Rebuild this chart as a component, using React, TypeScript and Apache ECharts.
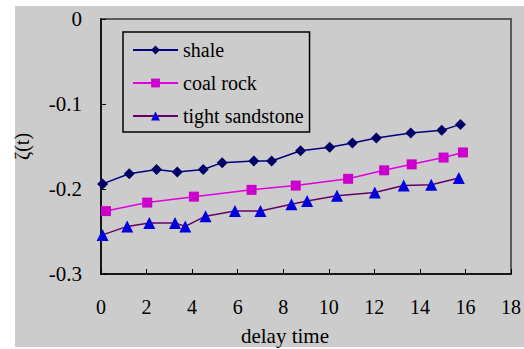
import React, { useEffect, useRef } from "react";
import * as echarts from "echarts";

const shaleX = [0.07, 1.24, 2.44, 3.35, 4.49, 5.32, 6.71, 7.49, 8.76, 10.04, 11.04, 12.09, 13.6, 14.96, 15.78];
const shaleY = [-0.194, -0.182, -0.177, -0.18, -0.177, -0.169, -0.167, -0.167, -0.155, -0.151, -0.146, -0.14, -0.134, -0.131, -0.124];
const coalX = [0.22, 2.03, 4.08, 6.61, 8.55, 10.85, 12.43, 13.64, 15.04, 15.89];
const coalY = [-0.226, -0.216, -0.209, -0.201, -0.196, -0.188, -0.178, -0.171, -0.163, -0.157];
const sandX = [0.07, 1.15, 2.12, 3.25, 3.7, 4.59, 5.88, 7.0, 8.36, 9.05, 10.36, 12.02, 13.29, 14.5, 15.71];
const sandY = [-0.254, -0.244, -0.24, -0.24, -0.244, -0.232, -0.226, -0.226, -0.218, -0.214, -0.208, -0.204, -0.196, -0.195, -0.187];
const seriesNames = ["shale", "coal rock", "tight sandstone"];
const xAxisTitle = "delay time";
const yAxisTitle = "ζ(t)";

const FONT = "Times New Roman, Liberation Serif, serif";

function pairs(xs: number[], ys: number[]) {
  return xs.map((x, i) => [x, ys[i]]);
}

export default function App() {
  const ref = useRef<HTMLDivElement>(null);
  useEffect(() => {
    if (!ref.current) return;
    const chart = echarts.init(ref.current, null, { renderer: "svg" });
    chart.setOption({
      animation: false,
      backgroundColor: "#ffffff",
      textStyle: { fontFamily: FONT },
      graphic: {
        elements: [
          {
            type: "rect",
            z: -100,
            shape: { x: 15, y: 6, width: 509, height: 341 },
            style: { fill: "#cccccc" },
          },
        ],
      },
      grid: {
        left: 101,
        top: 19,
        right: 13,
        bottom: 75,
        containLabel: false,
        outerBoundsMode: "none",
        show: true,
        borderColor: "#5a5a5a",
        borderWidth: 2,
        backgroundColor: "transparent",
      },
      legend: {
        orient: "vertical",
        left: 123,
        top: 32,
        width: 191,
        padding: [8, 6, 6, 9],
        itemGap: 13,
        itemWidth: 45,
        itemHeight: 11,
        borderColor: "#000",
        borderWidth: 1.5,
        textStyle: { fontFamily: FONT, fontSize: 20, color: "#000" },
        data: seriesNames,
      },
      xAxis: {
        type: "value",
        min: 0,
        max: 18,
        interval: 2,
        name: xAxisTitle,
        nameLocation: "middle",
        nameGap: 51,
        nameTextStyle: { fontFamily: FONT, fontSize: 21, color: "#000", padding: [0, 42, 0, 0] },
        axisLine: { onZero: false, lineStyle: { color: "#000", width: 1.5 } },
        axisTick: { inside: true, length: 5, lineStyle: { color: "#000" } },
        axisLabel: { fontFamily: FONT, fontSize: 20, color: "#000", margin: 23 },
        splitLine: { show: false },
      },
      yAxis: {
        type: "value",
        min: -0.3,
        max: 0,
        interval: 0.1,
        name: yAxisTitle,
        nameLocation: "middle",
        nameRotate: 90,
        nameGap: 69,
        nameTextStyle: { fontFamily: FONT, fontSize: 20, color: "#000" },
        axisLine: { onZero: false, lineStyle: { color: "#000", width: 1.5 } },
        axisTick: { inside: true, length: 5, lineStyle: { color: "#000" } },
        axisLabel: {
          fontFamily: FONT,
          fontSize: 21,
          color: "#000",
          margin: 19,
          formatter: (v: number) => (Math.abs(v) < 1e-9 ? "0" : v.toFixed(1)),
        },
        splitLine: { show: false },
      },
      series: [
        {
          name: seriesNames[0],
          type: "line",
          data: pairs(shaleX, shaleY),
          symbol: "diamond",
          symbolSize: 11,
          lineStyle: { color: "#000080", width: 1.5 },
          itemStyle: { color: "#000066" },
        },
        {
          name: seriesNames[1],
          type: "line",
          data: pairs(coalX, coalY),
          symbol: "rect",
          symbolSize: 10,
          lineStyle: { color: "#e000e0", width: 1.5 },
          itemStyle: { color: "#cc00cc" },
        },
        {
          name: seriesNames[2],
          type: "line",
          data: pairs(sandX, sandY),
          symbol: "triangle",
          symbolSize: 12,
          lineStyle: { color: "#660066", width: 1.5 },
          itemStyle: { color: "#0000dd" },
        },
      ],
    });
    return () => chart.dispose();
  }, []);
  return (
    <div
      ref={ref}
      style={{ position: "absolute", left: 0, top: 0, width: 524, height: 349 }}
    />
  );
}
